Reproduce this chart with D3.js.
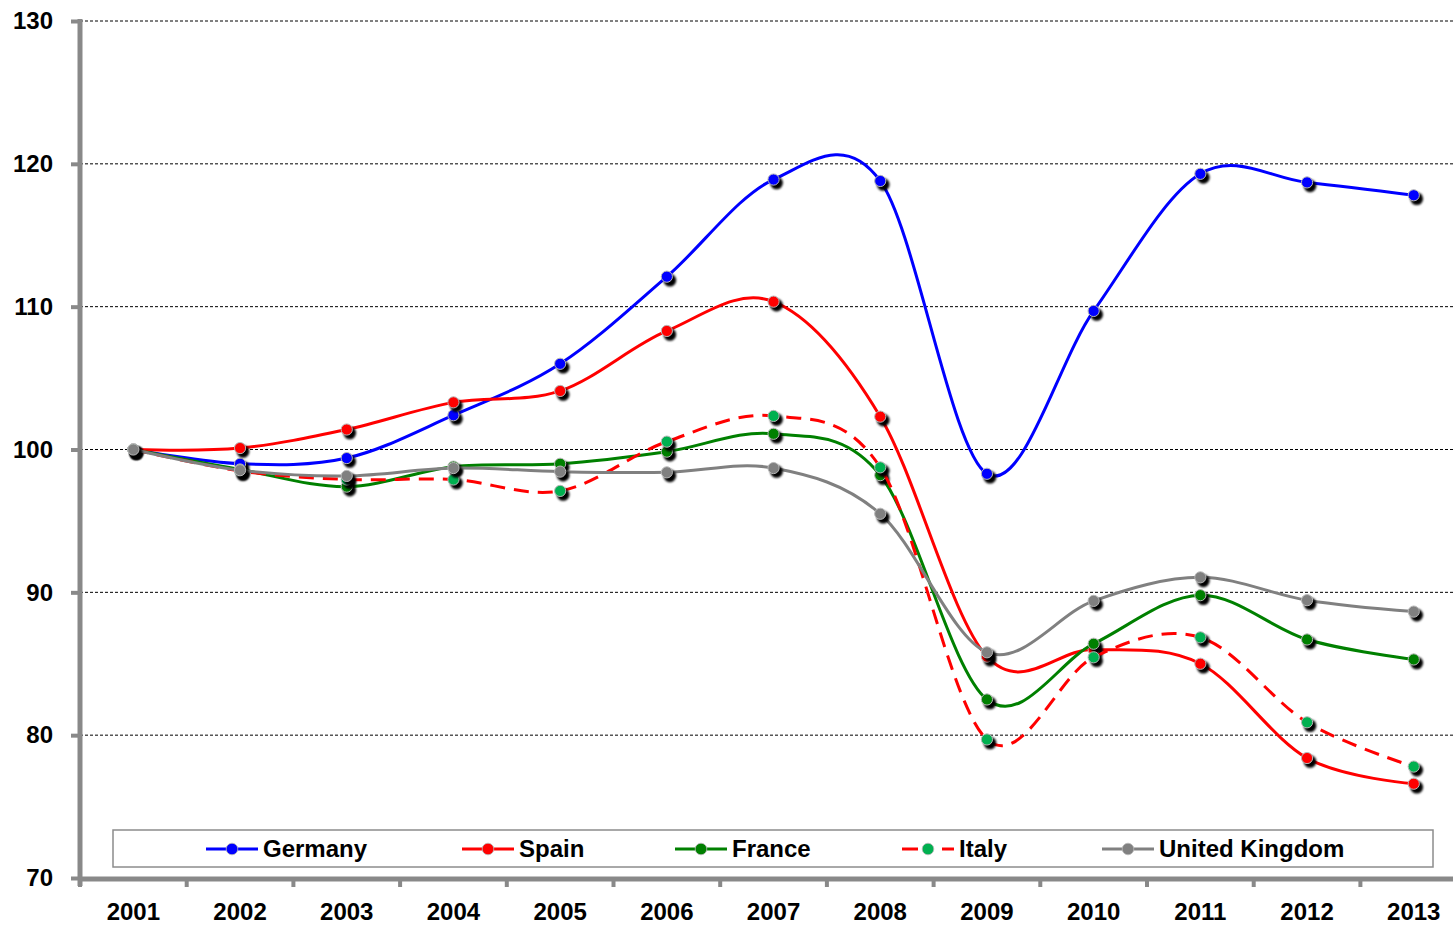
<!DOCTYPE html>
<html>
<head>
<meta charset="utf-8">
<script src="https://cdn.jsdelivr.net/npm/d3@7/dist/d3.min.js"></script>
<style>
  html, body { margin: 0; padding: 0; background: #fff; }
  svg { display: block; }
  text { font-family: "Liberation Sans", Arial, sans-serif; font-weight: bold; fill: #000; }
</style>
</head>
<body>
<svg id="chart" width="1453" height="925"></svg>
<script>
// ---- data ----
const years = ["2001","2002","2003","2004","2005","2006","2007","2008","2009","2010","2011","2012","2013"];
const yTicks = [70, 80, 90, 100, 110, 120, 130];
const seriesNames = ["Germany", "Spain", "France", "Italy", "United Kingdom"];
const germany = [100, 99.0, 99.4, 102.4, 106.0, 112.1, 118.9, 118.8, 98.3, 109.7, 119.3, 118.7, 117.8];
const spain   = [100, 100.1, 101.4, 103.3, 104.1, 108.3, 110.35, 102.3, 85.5, 86.0, 85.0, 78.4, 76.6];
const france  = [100, 98.6, 97.4, 98.8, 99.0, 99.85, 101.1, 98.2, 82.5, 86.4, 89.8, 86.7, 85.3];
const italy   = [100, 98.5, 97.9, 97.9, 97.1, 100.55, 102.35, 98.75, 79.7, 85.45, 86.85, 80.9, 77.8];
const uk      = [100, 98.55, 98.15, 98.7, 98.45, 98.4, 98.7, 95.5, 85.8, 89.4, 91.05, 89.45, 88.65];

(function () {
// ---- styles ----
const styles = [
  { values: germany, line: "#0000FF", marker: "#0000FF", dash: null },
  { values: spain,   line: "#FF0000", marker: "#FF0000", dash: null },
  { values: france,  line: "#008000", marker: "#008000", dash: null },
  { values: italy,   line: "#FF0000", marker: "#00B050", dash: "15,9" },
  { values: uk,      line: "#808080", marker: "#808080", dash: null }
];
const legendX = [206, 462, 675, 902, 1102];

const svg = d3.select("#chart");
const plotLeft = 80, plotTop = 21, plotBottom = 878, band = 106.7;
const x = d3.scaleBand().domain(years).range([plotLeft, plotLeft + band * years.length]);
const y = d3.scaleLinear().domain([70, 130]).range([plotBottom, plotTop]);
const axisColor = "#898989";

const defs = svg.append("defs");
const f = defs.append("filter").attr("id", "blur").attr("x", "-50%").attr("y", "-50%").attr("width", "200%").attr("height", "200%");
f.append("feGaussianBlur").attr("stdDeviation", 1);

// gridlines
svg.append("g").selectAll("line").data(yTicks.filter(v => v > 70)).join("line")
  .attr("x1", plotLeft).attr("x2", 1453)
  .attr("y1", d => y(d)).attr("y2", d => y(d))
  .attr("stroke", "#000").attr("stroke-width", 1).attr("stroke-dasharray", "3,2");

// y axis
const yAxis = svg.append("g").attr("transform", `translate(${plotLeft},0)`)
  .call(d3.axisLeft(y).tickValues(yTicks).tickSize(9).tickSizeOuter(0).tickPadding(18));
yAxis.select(".domain").attr("stroke", axisColor).attr("stroke-width", 5)
  .attr("d", `M0,${plotTop - 2}V${plotBottom + 8}`);
yAxis.selectAll(".tick line").attr("stroke", axisColor).attr("stroke-width", 4);
yAxis.selectAll("text").style("font-size", "24px").attr("font-family", null);

// x axis
const xAxis = svg.append("g").attr("transform", `translate(0,${plotBottom + 1})`)
  .call(d3.axisBottom(x).tickSize(0).tickSizeOuter(0).tickPadding(24));
xAxis.select(".domain").attr("stroke", axisColor).attr("stroke-width", 5).attr("d", `M${plotLeft - 2},0H1453`);
xAxis.selectAll("text").style("font-size", "24px").attr("font-family", null);
svg.append("g").selectAll("line").data(years).join("line")
  .attr("x1", d => x(d)).attr("x2", d => x(d))
  .attr("y1", plotBottom + 2).attr("y2", plotBottom + 9)
  .attr("stroke", axisColor).attr("stroke-width", 4);

// series
const line = d3.line()
  .x((d, i) => x(years[i]) + x.bandwidth() / 2)
  .y(d => y(d))
  .curve(d3.curveCatmullRom.alpha(0));

styles.forEach(s => {
  const g = svg.append("g");
  g.append("path").datum(s.values)
    .attr("d", line).attr("fill", "none")
    .attr("stroke", s.line).attr("stroke-width", 3)
    .attr("stroke-dasharray", s.dash).attr("stroke-linejoin", "round");
  g.selectAll(".shadow").data(s.values).join("circle").attr("class", "shadow")
    .attr("cx", (d, i) => x(years[i]) + x.bandwidth() / 2 + 3)
    .attr("cy", d => y(d) + 3.5)
    .attr("r", 6.3).attr("fill", "#000").attr("filter", "url(#blur)");
  g.selectAll(".mk").data(s.values).join("circle").attr("class", "mk")
    .attr("cx", (d, i) => x(years[i]) + x.bandwidth() / 2)
    .attr("cy", d => y(d))
    .attr("r", 5.6).attr("fill", s.marker)
    .attr("stroke", "#b8b8b8").attr("stroke-width", 1);
});

// legend
const lg = svg.append("g");
lg.append("rect").attr("x", 113).attr("y", 830).attr("width", 1320).attr("height", 37)
  .attr("fill", "#fff").attr("stroke", "#8c8c8c").attr("stroke-width", 1.5);
seriesNames.forEach((name, i) => {
  const s = styles[i];
  const lx = legendX[i], ly = 849;
  if (s.dash) {
    lg.append("line").attr("x1", lx).attr("x2", lx + 16).attr("y1", ly).attr("y2", ly)
      .attr("stroke", s.line).attr("stroke-width", 3);
    lg.append("line").attr("x1", lx + 40).attr("x2", lx + 52).attr("y1", ly).attr("y2", ly)
      .attr("stroke", s.line).attr("stroke-width", 3);
  } else {
    lg.append("line").attr("x1", lx).attr("x2", lx + 52).attr("y1", ly).attr("y2", ly)
      .attr("stroke", s.line).attr("stroke-width", 3);
  }
  lg.append("circle").attr("cx", lx + 26).attr("cy", ly).attr("r", 5.8)
    .attr("fill", s.marker).attr("stroke", "#b8b8b8").attr("stroke-width", 0.8);
  lg.append("text").attr("x", lx + 57).attr("y", ly).attr("dy", "0.35em")
    .style("font-size", "24px").text(name);
});
})();
</script>
</body>
</html>
